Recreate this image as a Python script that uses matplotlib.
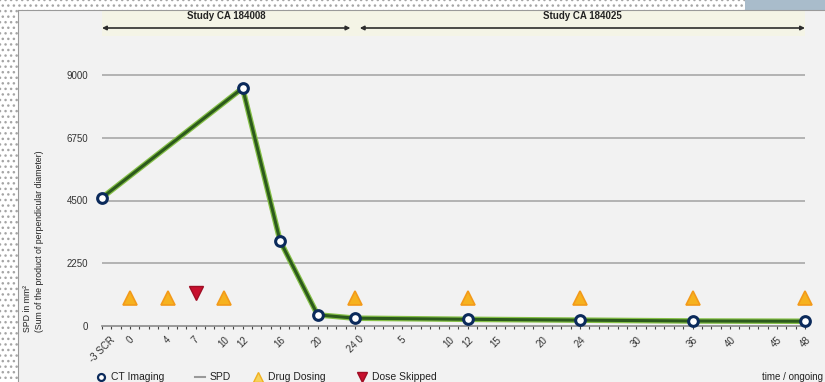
import matplotlib
matplotlib.use("Agg")
import matplotlib.pyplot as plt
import matplotlib.patheffects as pe
from matplotlib.lines import Line2D
from matplotlib.patches import Rectangle

plt.rcParams['font.family'] = ['Liberation Sans', 'DejaVu Sans']

# ---- data ----
ct_weeks = [-3, 12, 16, 20, 24, 36, 48, 60, 72]
spd_values = [4600, 8530, 3050, 400, 280, 240, 210, 180, 170]
dose_weeks = [0, 4, 10, 24, 36, 48, 60, 72]
dose_level = [1000, 1000, 1000, 1000, 1000, 1000, 1000, 1000]
skip_weeks = [7]
skip_level = [1200]
tick_weeks = [-3, 0, 4, 7, 10, 12, 16, 20, 24, 29, 34, 36, 39, 44, 48, 54, 60, 64, 69, 72]
tick_labels = ["-3 SCR", "0", "4", "7", "10", "12", "16", "20", "24 0",
               "5", "10", "12", "15", "20", "24", "30", "36", "40", "45", "48"]
y_ticks = [0, 2250, 4500, 6750, 9000]
studies = ["Study CA 184008", "Study CA 184025"]
study_spans = [(-3, 23.5), (24.5, 72)]
legend_labels = ["CT Imaging", "SPD", "Drug Dosing", "Dose Skipped"]

W, H = 825, 382
fig = plt.figure(figsize=(W / 100, H / 100), dpi=100)
fig.patch.set_facecolor('#f2f2f2')

# dotted screenshot border strips
for (x0, y0, w, h) in [(0, 0, 18, H), (0, H - 10, 745, 10)]:
    fig.add_artist(Rectangle((x0 / W, y0 / H), w / W, h / H, transform=fig.transFigure,
                             facecolor='white', edgecolor='#a5a5a5', hatch='...', lw=0))
fig.add_artist(Rectangle((745 / W, (H - 10) / H), 80 / W, 10 / H, transform=fig.transFigure,
                         facecolor='#a9bccb', edgecolor='none'))
fig.add_artist(Line2D([18 / W, 18 / W], [0, (H - 10) / H], transform=fig.transFigure,
                      color='#9a9a9a', lw=0.8))
fig.add_artist(Line2D([18 / W, 1], [(H - 10) / H, (H - 10) / H], transform=fig.transFigure,
                      color='#9a9a9a', lw=0.8))

ymax = 11500
px_per_unit = 62.75 / 2250
ax_left, ax_right = 102, 805
ax_bottom_px = 326
ax_height_px = ymax * px_per_unit
ax = fig.add_axes([ax_left / W, (H - ax_bottom_px) / H, (ax_right - ax_left) / W, ax_height_px / H])
ax.set_facecolor('#f2f2f2')
ax.set_xlim(-3, 72)
ax.set_ylim(0, ymax)

for s in ['top', 'right', 'left']:
    ax.spines[s].set_visible(False)
ax.spines['bottom'].set_color('#8a8a8a')
ax.spines['bottom'].set_linewidth(1.2)

ax.set_yticks(y_ticks)
ax.set_yticklabels([str(v) for v in y_ticks], fontsize=7, color='#333333')
ax.tick_params(axis='y', length=0, pad=10)
for v in y_ticks[1:]:
    ax.axhline(v, color='#a8a8a8', lw=1.2, zorder=1)

ax.set_xticks(tick_weeks)
ax.set_xticklabels(tick_labels, fontsize=7, rotation=45, ha='center', va='top',
                   color='#333333')
ax.set_xticks(range(-3, 73), minor=True)
ax.tick_params(axis='x', which='major', length=2, color='#444444', pad=4)
ax.tick_params(axis='x', which='minor', length=2, color='#444444', width=0.8)

# SPD line
ax.plot(ct_weeks, spd_values, color='#2c5a1c', lw=2.2, zorder=3, clip_on=False,
        path_effects=[pe.Stroke(linewidth=4, foreground='#86c048'), pe.Normal()])
ax.plot(ct_weeks, spd_values, linestyle='none', marker='o', ms=7, mfc='white',
        mec='#0b2a5b', mew=2.2, zorder=4, clip_on=False)
# drug dosing
ax.plot(dose_weeks, dose_level, linestyle='none', marker='^', ms=10, mfc='#f6b21f',
        mec='#f39a1a', mew=1.2, zorder=4, clip_on=False)
ax.plot(skip_weeks, skip_level, linestyle='none', marker='v', ms=10, mfc='#c8102e',
        mec='#a00d24', mew=1.0, zorder=4, clip_on=False)

# study headers with arrows
y_arrow = (ax_bottom_px - 28) / px_per_unit
y_text = (ax_bottom_px - 16) / px_per_unit
ax.add_patch(Rectangle((-3, (ax_bottom_px - 36) / px_per_unit), 75, 26 / px_per_unit,
                       facecolor='#f4f4e6', edgecolor='none', clip_on=False, zorder=0))
for name, (a, b) in zip(studies, study_spans):
    ax.annotate('', xy=(a, y_arrow), xytext=(b, y_arrow),
                arrowprops=dict(arrowstyle='<|-|>', color='#2d2d2d', lw=1.2,
                                mutation_scale=6, shrinkA=0, shrinkB=0),
                annotation_clip=False)
    ax.text((a + b) / 2, y_text, name, ha='center', va='center', fontsize=7,
            fontweight='bold', color='#222222', clip_on=False)

# y label
fig.text(28 / W, (H - 332) / H, "SPD in mm²", rotation=90, ha='center', va='bottom',
         fontsize=6.3, color='#222222')
fig.text(40 / W, (H - 332) / H, "(Sum of the product of perpendicular diameter)", rotation=90,
         ha='center', va='bottom', fontsize=6.3, color='#222222')

# x label
fig.text(823 / W, 5 / H, "time / ongoing", ha='right', va='center', fontsize=7, color='#222222')

# legend (manually laid out along the bottom)
leg_y = 5 / H
leg_handles = [
    dict(marker='o', ms=5, mfc='white', mec='#0b2a5b', mew=1.6, linestyle='none'),
    dict(marker=None, color='#999999', lw=1.5),
    dict(marker='^', ms=7, mfc='#f6d25a', mec='#f0b020', linestyle='none'),
    dict(marker='v', ms=7, mfc='#c8102e', mec='#a00d24', linestyle='none'),
]
handle_x = [101, 200, 258, 362]
for hx, style, lab in zip(handle_x, leg_handles, legend_labels):
    if style.get('marker') is None:
        fig.add_artist(Line2D([(hx - 5) / W, (hx + 5) / W], [leg_y, leg_y],
                              transform=fig.transFigure, color=style['color'], lw=style['lw']))
    else:
        fig.add_artist(Line2D([hx / W], [leg_y], transform=fig.transFigure, **style))
    fig.text((hx + 10) / W, leg_y, lab, ha='left', va='center', fontsize=7.5, color='#222222')

fig.savefig('out.png', dpi=100, facecolor=fig.get_facecolor())
